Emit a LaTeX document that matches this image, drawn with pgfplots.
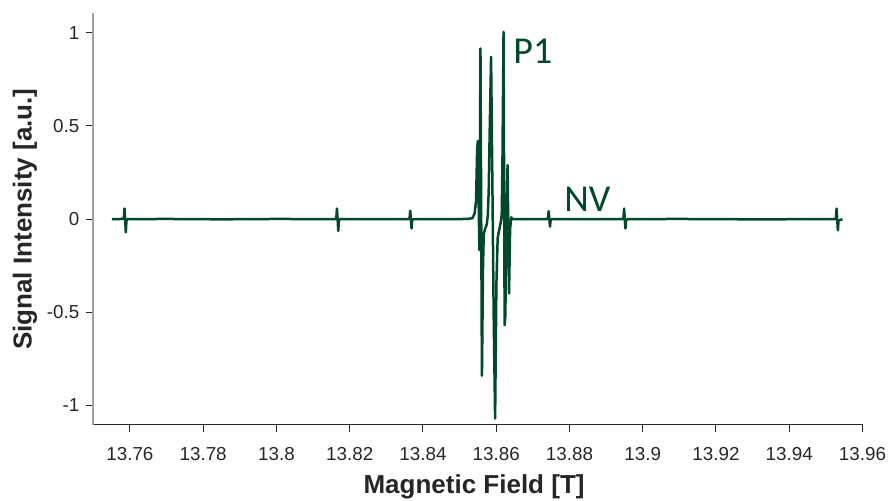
\documentclass[border=0pt]{standalone}
\usepackage{pgfplots}
\pgfplotsset{compat=1.18}
\usepackage{fontspec}
\setmainfont{Liberation Sans}
\newfontfamily\calib{Carlito}
\definecolor{sig}{RGB}{0,72,42}
\definecolor{txt}{RGB}{38,38,38}
\definecolor{yax}{RGB}{160,160,160}
\begin{document}
\begin{tikzpicture}
\begin{axis}[
  name=ax,
  scale only axis,
  width=384.6pt, height=205.85pt,
  xmin=13.75, xmax=13.96,
  ymin=-1.105, ymax=1.105,
  axis x line*=bottom,
  axis y line*=left,
  x axis line style={txt, line width=0.5pt},
  y axis line style={yax, line width=0.9pt},
  tick align=outside,
  major tick length=3.5pt,
  tick style={txt, line width=0.5pt},
  xtick={13.76,13.78,13.80,13.82,13.84,13.86,13.88,13.90,13.92,13.94,13.96},
  xticklabels={13.76,13.78,13.8,13.82,13.84,13.86,13.88,13.9,13.92,13.94,13.96},
  ytick={-1,-0.5,0,0.5,1},
  yticklabels={-1,-0.5,0,0.5,1},
  xticklabel style={font=\fontsize{9.4}{11}\selectfont, text=txt, anchor=base, yshift=-14.5pt},
  yticklabel style={font=\fontsize{9.4}{11}\selectfont, text=txt, anchor=east},
  xlabel={Magnetic Field [T]},
  ylabel={Signal Intensity [a.u.]},
  xlabel style={font=\fontsize{13}{15}\selectfont\bfseries, text=txt, at={(axis description cs:0.495,-0.1652)}, anchor=base},
  ylabel style={font=\fontsize{13}{15}\selectfont\bfseries, text=txt, at={(axis description cs:-0.0888,0.5)}, anchor=center, rotate=0},
  clip=false,
]
\addplot[sig, line width=1.25pt, line join=round] coordinates {
(13.7551,0)
(13.7580,0.001)
(13.75835,0.008)
(13.75852,0.057)
(13.7587,0)
(13.75888,-0.071)
(13.75905,-0.008)
(13.7594,0)
(13.7700,0.001)
(13.7850,-0.001)
(13.8000,0.001)
(13.8160,0)
(13.81635,0.008)
(13.81652,0.057)
(13.8167,0)
(13.81688,-0.063)
(13.81705,-0.008)
(13.8174,0)
(13.8360,0)
(13.83635,0.006)
(13.83652,0.045)
(13.8367,0)
(13.83688,-0.05)
(13.83705,-0.006)
(13.8374,0)
(13.8500,0)
(13.8525,0.002)
(13.8535,0.005)
(13.8541,0.03)
(13.8545,0.10)
(13.8548,0.38)
(13.8550,0.42)
(13.8552,0.10)
(13.8554,-0.166)
(13.85555,0.30)
(13.8557,0.916)
(13.8561,-0.841)
(13.8564,-0.25)
(13.8566,-0.08)
(13.8570,-0.05)
(13.8574,-0.03)
(13.8577,0.02)
(13.85795,0.15)
(13.8582,0.45)
(13.8586,0.871)
(13.8590,0.10)
(13.8593,-0.5)
(13.8597,-1.07)
(13.86005,-0.35)
(13.8604,-0.10)
(13.8608,-0.06)
(13.8612,-0.02)
(13.8615,0.02)
(13.8617,0.3)
(13.8620,1.005)
(13.8623,-0.569)
(13.8625,-0.52)
(13.8627,-0.1)
(13.8631,0.29)
(13.8635,-0.399)
(13.8638,-0.05)
(13.8641,0.01)
(13.8645,0)
(13.8700,0)
(13.8738,0)
(13.87415,0.006)
(13.87432,0.043)
(13.8745,0)
(13.87468,-0.04)
(13.87485,-0.006)
(13.8752,0)
(13.8944,0)
(13.89475,0.008)
(13.89492,0.057)
(13.8951,0)
(13.89528,-0.05)
(13.89545,-0.008)
(13.8958,0)
(13.9100,0.001)
(13.9300,-0.001)
(13.9525,0)
(13.95275,0.008)
(13.95292,0.057)
(13.9531,0)
(13.95328,-0.06)
(13.95345,-0.008)
(13.9545,0)
};
\node[anchor=base west, text=sig, font=\calib\fontsize{19}{22}\selectfont, inner sep=0pt] at (axis cs:13.8646,0.836) {P1};
\node[anchor=base west, text=sig, font=\calib\fontsize{19}{22}\selectfont, inner sep=0pt] at (axis cs:13.8785,0.039) {NV};
\end{axis}
\pgfresetboundingbox
\path[use as bounding box] ([shift={(-46.65pt,-38pt)}]ax.south west) rectangle ([shift={(397.85pt,212.5pt)}]ax.south west);
\end{tikzpicture}
\end{document}
